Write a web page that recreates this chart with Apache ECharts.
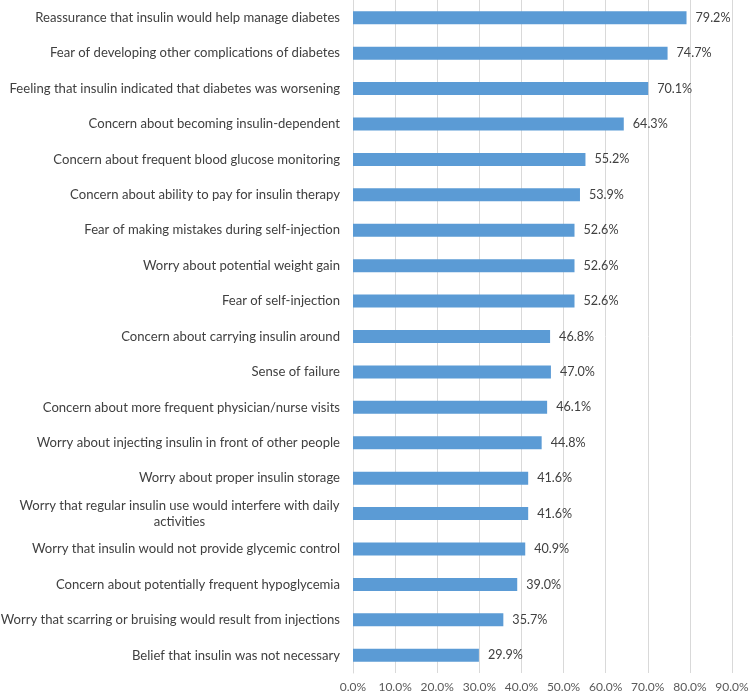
<!DOCTYPE html>
<html><head><meta charset="utf-8">
<script src="https://cdn.jsdelivr.net/npm/echarts@6/dist/echarts.min.js"></script>
<style>html,body{margin:0;padding:0;background:#fff}#c{width:750px;height:696px}</style>
</head><body><div id="c"></div>
<script>
var categories = [
  "Reassurance that insulin would help manage diabetes",
  "Fear of developing other complications of diabetes",
  "Feeling that insulin indicated that diabetes was worsening",
  "Concern about becoming insulin-dependent",
  "Concern about frequent blood glucose monitoring",
  "Concern about ability to pay for insulin therapy",
  "Fear of making mistakes during self-injection",
  "Worry about potential weight gain",
  "Fear of self-injection",
  "Concern about carrying insulin around",
  "Sense of failure",
  "Concern about more frequent physician/nurse visits",
  "Worry about injecting insulin in front of other people",
  "Worry about proper insulin storage",
  "Worry that regular insulin use would interfere with daily\nactivities",
  "Worry that insulin would not provide glycemic control",
  "Concern about potentially frequent hypoglycemia",
  "Worry that scarring or bruising would result from injections",
  "Belief that insulin was not necessary"
];
var values = [79.2, 74.7, 70.1, 64.3, 55.2, 53.9, 52.6, 52.6, 52.6, 46.8, 47.0, 46.1, 44.8, 41.6, 41.6, 40.9, 39.0, 35.7, 29.9];
var xTicks = [0, 10, 20, 30, 40, 50, 60, 70, 80, 90];

var FONT = 'Lato';
var FS = 13.1;
var NFS = 12.6;
var cv = document.createElement('canvas').getContext('2d');
cv.font = FS + 'px ' + FONT;
function lineW(s){ return Math.ceil(cv.measureText(s).width); }

var chart = echarts.init(document.getElementById('c'));
chart.setOption({
  animation: false,
  grid: {left: 353, right: 18, top: 0, bottom: 23, containLabel: false, outerBoundsMode: 'none'},
  xAxis: {
    type: 'value', min: xTicks[0], max: xTicks[xTicks.length-1], interval: 10,
    axisLine: {show: false}, axisTick: {show: false},
    splitLine: {lineStyle: {color: '#d9d9d9', width: 1}},
    axisLabel: {color: '#595959', fontFamily: FONT, fontSize: 12, margin: 8, hideOverlap: false,
      formatter: function(v){ return v.toFixed(1) + '%'; }}
  },
  yAxis: {
    type: 'category', inverse: true, data: categories,
    axisLine: {show: true, lineStyle: {color: '#d9d9d9'}}, axisTick: {show: false},
    axisLabel: {color: '#404040', fontFamily: FONT, fontSize: FS, margin: 13, interval: 0,
      formatter: function(v){
        if (v.indexOf('\n') >= 0) {
          var lines = v.split('\n');
          return '{m|' + lines.join('}\n{m|') + '}';
        }
        return v;
      },
      rich: {m: {align: 'center', width: lineW(categories[14].split('\n')[0]), fontFamily: FONT, fontSize: FS, color: '#404040', lineHeight: 16}}
    }
  },
  series: [{
    type: 'bar', data: values, barWidth: 13,
    itemStyle: {color: '#5B9BD5'},
    label: {show: true, position: 'right', distance: 9, color: '#404040', fontFamily: FONT, fontSize: NFS,
      formatter: function(p){ return p.value.toFixed(1) + '%'; }}
  }]
});
</script></body></html>
